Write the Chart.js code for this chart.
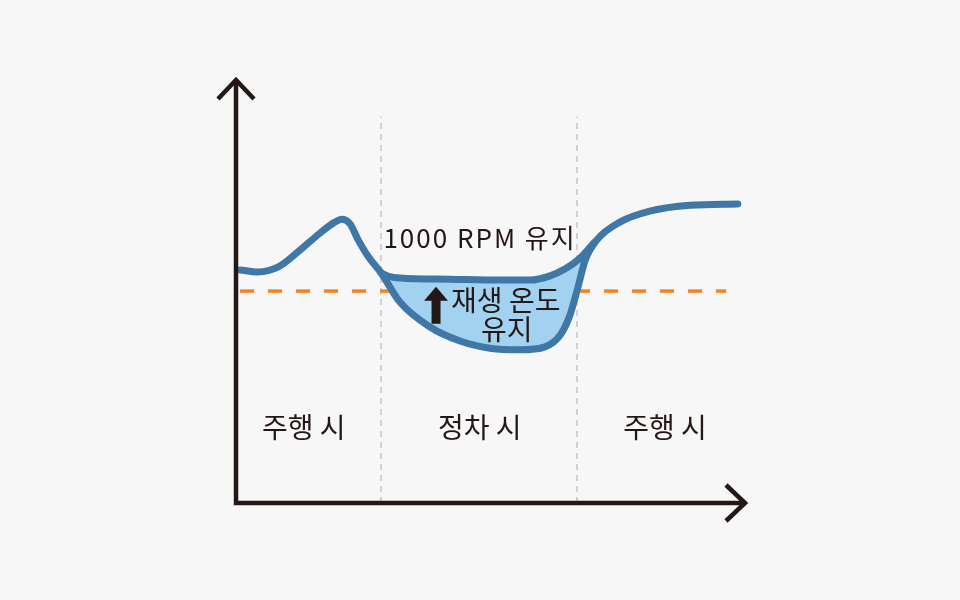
<!DOCTYPE html>
<html lang="ko">
<head>
<meta charset="utf-8">
<title>재생 온도 유지</title>
<script src="https://cdn.jsdelivr.net/npm/chart.js@4.4.1/dist/chart.umd.min.js"></script>
<style>
  html, body { margin: 0; padding: 0; background: #f7f7f7; }
  #wrap { width: 960px; height: 600px; }
</style>
</head>
<body>
<div id="wrap"><canvas id="temp-chart" width="960" height="600"></canvas></div>
<script>
//main temperature curve (time, temp)
const timeMain = [0.8, 4.3, 8.3, 12.6, 16.5, 19.4, 20.8, 22.4, 24.0, 25.9, 28.5, 32.2, 38.1, 44.0, 49.9, 55.8, 60.7, 63.7, 65.6, 67.2, 68.6, 70.9, 75.4, 81.3, 89.2, 98.6];
const tempMain = [55.1, 54.6, 55.8, 59.8, 63.8, 66.4, 67.1, 66.0, 62.2, 58.4, 54.4, 47.5, 41.6, 38.3, 36.6, 36.2, 36.9, 39.7, 44.4, 51.1, 57.4, 62.2, 66.4, 69.0, 70.4, 70.7];

//curve with 1000 rpm kept while stopped
const timeRpm = [28.5, 30.0, 32.2, 42.0, 51.9, 57.8, 61.7, 64.6, 67.6, 70.4];
const tempRpm = [54.4, 53.6, 53.2, 52.9, 52.7, 52.7, 53.7, 55.3, 57.9, 61.6];

//regeneration temperature line
const regenTemp = 50.1;
const regenRange = [0.8, 96.3];

//phase boundaries and labels
const phaseBounds = [0, 28.5, 67, 100];
const phaseLabels = ['주행 시', '정차 시', '주행 시'];
const phaseTop = 91.3;

const rpmLabel = '1000 RPM 유지';
const regenLabel = ['재생 온도', '유지'];

const toPoints = (xs, ys) => xs.map((x, i) => ({ x, y: ys[i] }));

const ink = '#231815';
const blue = '#3f77a7';
const fontName = '"Noto Sans CJK KR", "Noto Sans", sans-serif';

//axes with arrow heads + text
const diagramPlugin = {
  id: 'diagram',
  afterDatasetsDraw(chart) {
    const { ctx, chartArea, scales } = chart;
    const xs = scales.x;
    const ys = scales.y;
    const ox = chartArea.left;
    const oy = chartArea.bottom;

    ctx.save();
    ctx.strokeStyle = ink;
    ctx.lineWidth = 4.5;
    ctx.lineCap = 'butt';
    ctx.lineJoin = 'miter';
    ctx.beginPath();
    ctx.moveTo(ox, chartArea.top);
    ctx.lineTo(ox, oy);
    ctx.lineTo(chartArea.right, oy);
    ctx.stroke();

    ctx.beginPath();
    ctx.moveTo(ox - 18, chartArea.top + 19);
    ctx.lineTo(ox, chartArea.top);
    ctx.lineTo(ox + 18, chartArea.top + 19);
    ctx.moveTo(chartArea.right - 19, oy - 18);
    ctx.lineTo(chartArea.right, oy);
    ctx.lineTo(chartArea.right - 19, oy + 18);
    ctx.stroke();

    //texts
    ctx.fillStyle = ink;
    ctx.textAlign = 'center';
    ctx.textBaseline = 'middle';
    ctx.font = '28px ' + fontName;
    const labelX = [13.3, 47.9, 84.3];
    phaseLabels.forEach((label, i) => {
      ctx.fillText(label, xs.getPixelForValue(labelX[i]), ys.getPixelForValue(18));
    });

    ctx.font = '26px ' + fontName;
    ctx.letterSpacing = '2px';
    const midStop = (phaseBounds[1] + phaseBounds[2]) / 2;
    ctx.fillText(rpmLabel, xs.getPixelForValue(midStop) + 1, ys.getPixelForValue(62.6));
    ctx.letterSpacing = '0px';

    ctx.font = '28px ' + fontName;
    const lx = xs.getPixelForValue(53.0);
    ctx.fillText(regenLabel[0], lx, ys.getPixelForValue(48.0));
    ctx.fillText(regenLabel[1], lx + 1, ys.getPixelForValue(41.0));

    //up arrow
    const ax = xs.getPixelForValue(39.3);
    const at = ys.getPixelForValue(51.1);
    const ab = ys.getPixelForValue(42.4);
    ctx.beginPath();
    ctx.moveTo(ax, at);
    ctx.lineTo(ax + 12, at + 14);
    ctx.lineTo(ax + 4.5, at + 14);
    ctx.lineTo(ax + 4.5, ab);
    ctx.lineTo(ax - 4.5, ab);
    ctx.lineTo(ax - 4.5, at + 14);
    ctx.lineTo(ax - 12, at + 14);
    ctx.closePath();
    ctx.fill();
    ctx.restore();
  },
};

const grayLine = (x) => ({
  data: [{ x, y: 0 }, { x, y: phaseTop }],
  borderColor: '#c4c4c4',
  borderWidth: 1.5,
  borderDash: [6, 5],
  pointRadius: 0,
  fill: false,
});

const main = () => {
  const ctx = document.querySelector('#temp-chart');
  new Chart(ctx, {
    type: 'line',
    data: {
      datasets: [
        {
          data: toPoints(timeMain, tempMain),
          borderColor: blue,
          borderWidth: 7,
          borderCapStyle: 'round',
          borderJoinStyle: 'round',
          cubicInterpolationMode: 'monotone',
          pointRadius: 0,
          fill: false,
        },
        {
          data: toPoints(timeRpm, tempRpm),
          borderColor: blue,
          borderWidth: 7,
          borderCapStyle: 'round',
          borderJoinStyle: 'round',
          cubicInterpolationMode: 'monotone',
          pointRadius: 0,
          fill: { target: 0 },
          backgroundColor: '#a2d2f0',
        },
        {
          data: [{ x: regenRange[0], y: regenTemp }, { x: regenRange[1], y: regenTemp }],
          borderColor: '#f5821f',
          borderWidth: 3.5,
          borderDash: [14, 14],
          pointRadius: 0,
          fill: false,
        },
        grayLine(phaseBounds[1]),
        grayLine(phaseBounds[2]),
      ],
    },
    options: {
      responsive: false,
      animation: false,
      clip: false,
      layout: {
        padding: { left: 236, right: 215, top: 80, bottom: 97 },
      },
      scales: {
        x: { type: 'linear', min: 0, max: 100, display: false },
        y: { type: 'linear', min: 0, max: 100, display: false },
      },
      plugins: {
        legend: { display: false },
        tooltip: { enabled: false },
      },
    },
    plugins: [diagramPlugin],
  });
};

main();
</script>
</body>
</html>
